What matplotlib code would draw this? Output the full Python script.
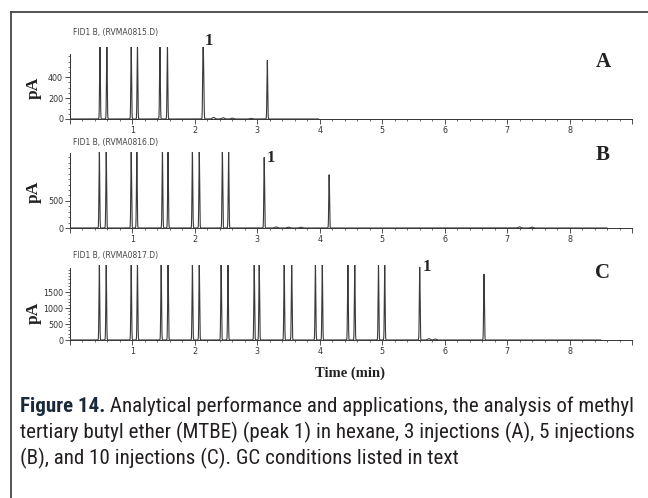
import numpy as np
import matplotlib
matplotlib.use("Agg")
import matplotlib.pyplot as plt
from matplotlib import font_manager
from matplotlib.ticker import MultipleLocator, FixedLocator, NullFormatter

# ---------------- data ----------------
headers = ["FID1 B, (RVMA0815.D)", "FID1 B, (RVMA0816.D)", "FID1 B, (RVMA0817.D)"]
panel_letters = ["A", "B", "C"]

times_A = [0.48, 0.59, 0.98, 1.08, 1.44, 1.56, 2.13, 2.14, 3.16]
heights_A = [700, 700, 700, 700, 700, 700, 700, 330, 560]
bumps_A_t = [2.30, 2.45, 2.60, 2.90]
bumps_A_h = [15, 12, 8, 6]
end_A = 3.98

times_B = [0.47, 0.58, 0.98, 1.07, 1.48, 1.57, 1.96, 2.07, 2.44, 2.54, 3.11, 4.15]
heights_B = [1400, 1400, 1400, 1400, 1400, 1400, 1400, 1400, 1400, 1400, 1300, 980]
bumps_B_t = [3.30, 3.50, 3.70, 7.20, 7.40]
bumps_B_h = [20, 15, 15, 20, 15]
end_B = 8.6

times_C = [0.47, 0.58, 0.98, 1.08, 1.46, 1.57, 1.96, 2.07, 2.42, 2.53,
           2.95, 3.03, 3.43, 3.55, 3.93, 4.04, 4.45, 4.56, 4.94, 5.04, 5.60, 6.63]
heights_C = [2350] * 20 + [2280, 2060]
bumps_C_t = [5.75, 5.85]
bumps_C_h = [40, 30]
end_C = 8.5

ylims = [690, 1400, 2350]
y_spine_top = [620, 1380, 2250]
y_major = [[0, 200, 400], [0, 500], [0, 500, 1000, 1500]]
y_minor = [50, 100, 100]
x_labels = ["1", "2", "3", "4", "5", "6", "7", "8"]

caption_lines = [
    ("Figure 14.", " Analytical performance and applications, the analysis of methyl"),
    ("", "tertiary butyl ether (MTBE) (peak 1) in hexane, 3 injections (A), 5 injections"),
    ("", "(B), and 10 injections (C). GC conditions listed in text"),
]

# ---------------- helpers ----------------
W, H = 648, 498
fig = plt.figure(figsize=(W / 100, H / 100), dpi=100)
fig.patch.set_facecolor("white")


def fx(px):
    return px / W


def fy(py):
    return 1 - py / H


def trace(times, heights, bt, bh, end):
    t = np.linspace(0, end, 12000)
    y = np.zeros_like(t)
    for t0, h in zip(times, heights):
        y += h * np.exp(-0.5 * ((t - t0) / 0.006) ** 2)
    for t0, h in zip(bt, bh):
        y += h * np.exp(-0.5 * ((t - t0) / 0.02) ** 2)
    return t, y


panels = [
    (times_A, heights_A, bumps_A_t, bumps_A_h, end_A, 47, 119),
    (times_B, heights_B, bumps_B_t, bumps_B_h, end_B, 152, 228),
    (times_C, heights_C, bumps_C_t, bumps_C_h, end_C, 265, 340),
]

for i, (tt, hh, bt, bh, end, top, bot) in enumerate(panels):
    ax = fig.add_axes([fx(70), fy(bot), fx(632 - 70), (bot - top) / H])
    t, y = trace(tt, hh, bt, bh, end)
    ax.plot(t, y, color="#3a3a3a", lw=0.8, clip_on=True)
    ax.set_xlim(0, 9)
    ax.set_ylim(0, ylims[i])
    for s in ["top", "right"]:
        ax.spines[s].set_visible(False)
    ax.spines["left"].set_bounds(0, y_spine_top[i])
    for s in ["left", "bottom"]:
        ax.spines[s].set_linewidth(0.7)
        ax.spines[s].set_color("#333333")
    ax.patch.set_alpha(0)
    ax.xaxis.set_major_locator(FixedLocator(list(range(0, 10))))
    ax.set_xticklabels([""] + x_labels + [""])
    ax.xaxis.set_minor_locator(MultipleLocator(0.2))
    ax.yaxis.set_major_locator(FixedLocator(y_major[i]))
    ax.yaxis.set_minor_locator(FixedLocator(list(np.arange(0, y_spine_top[i] + 1, y_minor[i]))))
    ax.yaxis.set_minor_formatter(NullFormatter())
    ax.tick_params(axis="both", which="major", length=3.5, width=0.6, direction="out",
                   color="#333333", pad=1.5)
    ax.tick_params(axis="both", which="minor", length=1.6, width=0.5, direction="out",
                   color="#333333")
    for lab in ax.get_xticklabels() + ax.get_yticklabels():
        lab.set_fontfamily("DejaVu Sans")
        lab.set_fontsize(5.8)
        lab.set_color("#333333")

# header texts
for py, txt in zip([33, 143, 255], headers):
    fig.text(fx(73), fy(py), txt, fontsize=5.5, color="#444444", va="center", ha="left",
             family="DejaVu Sans")

serif = "Liberation Serif"
for py in [88, 192, 313]:
    fig.text(fx(34), fy(py), "pA", fontsize=12.5, fontweight="bold", family=serif,
             rotation=90, va="center", ha="center", color="#222222")
for (px, py), letter in zip([(603, 62), (603, 155), (603, 273)], panel_letters):
    fig.text(fx(px), fy(py), letter, fontsize=15, fontweight="bold", family=serif,
             va="center", ha="center", color="#222222")
for px, py in [(209, 41), (271, 158), (427, 267)]:
    fig.text(fx(px), fy(py), "1", fontsize=12, fontweight="bold", family=serif,
             va="center", ha="center", color="#222222")

fig.text(fx(350), fy(373), "Time (min)", fontsize=10.5, fontweight="bold", family=serif,
         va="center", ha="center", color="#222222")

# caption (condensed font, size fitted so the first line spans the caption width)
cap_family = "DejaVu Sans"
for cand in ["Liberation Sans Narrow", "Roboto Condensed", "Open Sans Condensed", "Lato"]:
    try:
        font_manager.findfont(cand, fallback_to_default=False)
        cap_family = cand
        break
    except Exception:
        pass

renderer = fig.canvas.get_renderer()
probe = fig.text(0, 0, caption_lines[0][0] + caption_lines[0][1], fontsize=10,
                 family=cap_family)
w10 = probe.get_window_extent(renderer=renderer).width
probe.remove()
cap_size = 10 * (630 - 20) / w10

for k, (bold_part, rest) in enumerate(caption_lines):
    py = 406 + 26 * k
    x0 = fx(20)
    if bold_part:
        tb = fig.text(x0, fy(py), bold_part, fontsize=cap_size, fontweight="bold",
                      family=cap_family, va="center", ha="left", color="#1b2a3a")
        bb = tb.get_window_extent(renderer=renderer)
        x0 = bb.x1 / W
    fig.text(x0, fy(py), rest, fontsize=cap_size, family=cap_family, va="center",
             ha="left", color="#231f20")

# outer frame
fig.add_artist(plt.Line2D([fx(11), fx(11)], [fy(12), fy(498)], color="#444444", lw=1.3))
fig.add_artist(plt.Line2D([fx(11), 1.0], [fy(12), fy(12)], color="#444444", lw=1.3))

fig.savefig("out.png", dpi=100)
